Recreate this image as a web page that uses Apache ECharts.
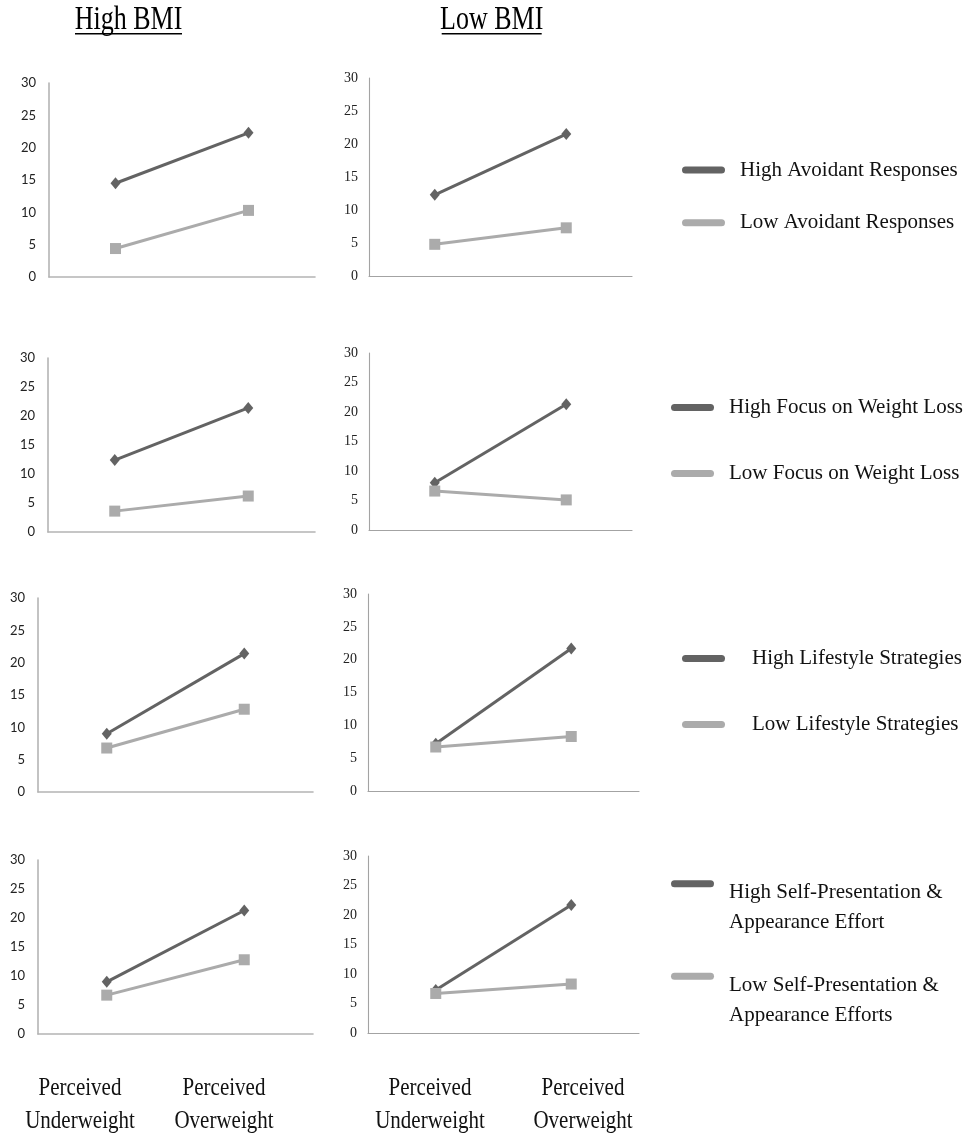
<!DOCTYPE html>
<html>
<head>
<meta charset="utf-8">
<title>Perceived weight by BMI group</title>
<script src="https://cdn.jsdelivr.net/npm/echarts@6/dist/echarts.min.js"></script>
<style>
  html, body { margin: 0; padding: 0; background: #ffffff; }
  #chart { width: 980px; height: 1141px; }
</style>
</head>
<body>
<div id="chart"></div>
<script>
// ---- data ----
const categories = ['Perceived\nUnderweight', 'Perceived\nOverweight'];
const columnTitles = ['High BMI', 'Low BMI'];
const yTicks = [0, 30, 5]; // min, max, step

const rowNames = [
  ['High Avoidant Responses', 'Low Avoidant Responses'],
  ['High Focus on Weight Loss', 'Low Focus on Weight Loss'],
  ['High Lifestyle Strategies', 'Low Lifestyle Strategies'],
  ['High Self-Presentation & Appearance Effort', 'Low Self-Presentation & Appearance Efforts']
];

// Avoidant responses
const avoidHighBmiHigh = [14.5, 22.3];
const avoidHighBmiLow  = [4.4, 10.3];
const avoidLowBmiHigh  = [12.3, 21.5];
const avoidLowBmiLow   = [4.8, 7.3];
// Focus on weight loss
const focusHighBmiHigh = [12.4, 21.4];
const focusHighBmiLow  = [3.6, 6.2];
const focusLowBmiHigh  = [8.0, 21.3];
const focusLowBmiLow   = [6.6, 5.1];
// Lifestyle strategies
const lifeHighBmiHigh  = [9.0, 21.4];
const lifeHighBmiLow   = [6.8, 12.8];
const lifeLowBmiHigh   = [7.2, 21.7];
const lifeLowBmiLow    = [6.7, 8.3];
// Self-presentation & appearance effort
const selfHighBmiHigh  = [9.0, 21.3];
const selfHighBmiLow   = [6.7, 12.8];
const selfLowBmiHigh   = [7.3, 21.7];
const selfLowBmiLow    = [6.7, 8.3];

// ---- layout ----
const DARK = '#636363';
const LIGHT = '#ababab';
const SERIF = '"Liberation Serif", "Times New Roman", serif';
const SANS = 'Lato, "Open Sans", sans-serif';

// each panel: [row, col, left, top, width, height, dark data, light data]
const panels = [
  [0, 0, 49, 83, 266, 194, avoidHighBmiHigh, avoidHighBmiLow],
  [0, 1, 369, 78, 263, 198, avoidLowBmiHigh, avoidLowBmiLow],
  [1, 0, 48, 358, 267, 174, focusHighBmiHigh, focusHighBmiLow],
  [1, 1, 369, 353, 263, 177, focusLowBmiHigh, focusLowBmiLow],
  [2, 0, 38, 598, 275, 194, lifeHighBmiHigh, lifeHighBmiLow],
  [2, 1, 368, 594, 271, 197, lifeLowBmiHigh, lifeLowBmiLow],
  [3, 0, 38, 860, 275, 174, selfHighBmiHigh, selfHighBmiLow],
  [3, 1, 368, 856, 271, 177, selfLowBmiHigh, selfLowBmiLow]
];

const grids = [], xAxes = [], yAxes = [], series = [];
panels.forEach((p, i) => {
  const [row, col, left, top, width, height, darkData, lightData] = p;
  const isLeft = col === 0;
  const axisColor = isLeft ? '#b4b4b4' : '#a3a3a3';
  const axisWidth = isLeft ? 1.6 : 1.1;
  grids.push({ left, top, width, height, containLabel: false });
  xAxes.push({
    type: 'category', gridIndex: i, data: categories, boundaryGap: true,
    axisLine: { show: true, onZero: false, lineStyle: { color: axisColor, width: axisWidth } },
    axisTick: { show: false }, axisLabel: { show: false }, splitLine: { show: false }
  });
  yAxes.push({
    type: 'value', gridIndex: i, min: yTicks[0], max: yTicks[1], interval: yTicks[2],
    axisLine: { show: true, lineStyle: { color: axisColor, width: axisWidth } },
    axisTick: { show: false }, splitLine: { show: false },
    axisLabel: {
      color: '#222', margin: isLeft ? 13 : 11,
      fontFamily: isLeft ? SANS : SERIF, fontSize: isLeft ? 13 : 14
    }
  });
  series.push({
    type: 'line', name: rowNames[row][0], xAxisIndex: i, yAxisIndex: i, data: darkData,
    symbol: 'diamond', symbolSize: [10, 12], showSymbol: true,
    lineStyle: { color: DARK, width: 3 }, itemStyle: { color: DARK },
    emphasis: { disabled: true }, silent: true, z: 2
  });
  series.push({
    type: 'line', name: rowNames[row][1], xAxisIndex: i, yAxisIndex: i, data: lightData,
    symbol: 'rect', symbolSize: 11, showSymbol: true,
    lineStyle: { color: LIGHT, width: 3 }, itemStyle: { color: LIGHT },
    emphasis: { disabled: true }, silent: true, z: 3
  });
});

// ---- legends, one entry each ----
const PILL = 'path://M3.5,0 H39.5 A3.5,3.5 0 0 1 39.5,7 H3.5 A3.5,3.5 0 0 1 3.5,0 Z';
// [name, icon left, icon centre y, gap to text, two-line]
const legendSpots = [
  [rowNames[0][0], 682, 170, 15, false],
  [rowNames[0][1], 682, 222.7, 15, false],
  [rowNames[1][0], 671, 407.5, 15, false],
  [rowNames[1][1], 671, 473.5, 15, false],
  [rowNames[2][0], 682, 658.4, 27, false],
  [rowNames[2][1], 682, 724.6, 27, false],
  [rowNames[3][0], 671, 883.7, 15, true],
  [rowNames[3][1], 671, 976.3, 15, true]
];
const legends = legendSpots.map(([name, left, cy, gap, twoLine]) => {
  // two-line entries: a spacer line above keeps the first text line level with the icon
  const half = twoLine ? (48 + 30 + 30) / 2 : 12;
  return {
    data: [name], orient: 'vertical', left, top: cy - half,
    padding: 0, itemWidth: 43, itemHeight: 9, icon: PILL, selectedMode: false,
    formatter: twoLine
      ? (n) => '{s| }\n' + n.split(' & ').map((part, k) => '{t|' + part + (k === 0 ? ' &' : '') + '}').join('\n')
      : '{name}',
    textStyle: {
      fontFamily: SERIF, fontSize: 21, lineHeight: 24, color: '#111',
      padding: [0, 0, 0, gap - 5],
      rich: {
        s: { fontSize: 10, lineHeight: 48 },
        t: { fontFamily: SERIF, fontSize: 21, lineHeight: 30, color: '#111' }
      }
    }
  };
});

// ---- titles and shared category labels ----
const graphics = [];
const titleSpots = [[128.5, 75, 182], [491.7, 441.7, 541.7]];
columnTitles.forEach((t, k) => {
  const [cx, x1, x2] = titleSpots[k];
  graphics.push({
    type: 'text', x: cx, y: 20.7, scaleY: 1.28, silent: true,
    style: { text: t, font: '26px ' + SERIF, fill: '#000', align: 'center', verticalAlign: 'middle' }
  });
  graphics.push({
    type: 'line', silent: true,
    shape: { x1, y1: 33.8, x2, y2: 33.8 },
    style: { stroke: '#000', lineWidth: 1.4 }
  });
});
const categoryLabelX = [[80, 224], [430, 583]];
categoryLabelX.forEach((xs) => {
  categories.forEach((c, j) => {
    graphics.push({
      type: 'text', x: xs[j], y: 1105, scaleY: 1.2, silent: true,
      style: {
        text: c, font: '21px ' + SERIF, lineHeight: 26.9, fill: '#111',
        align: 'center', verticalAlign: 'middle'
      }
    });
  });
});

const chart = echarts.init(document.getElementById('chart'), null, { renderer: 'canvas' });
chart.setOption({
  backgroundColor: '#ffffff',
  animation: false,
  grid: grids,
  xAxis: xAxes,
  yAxis: yAxes,
  legend: legends,
  series: series,
  graphic: graphics
});
</script>
</body>
</html>
